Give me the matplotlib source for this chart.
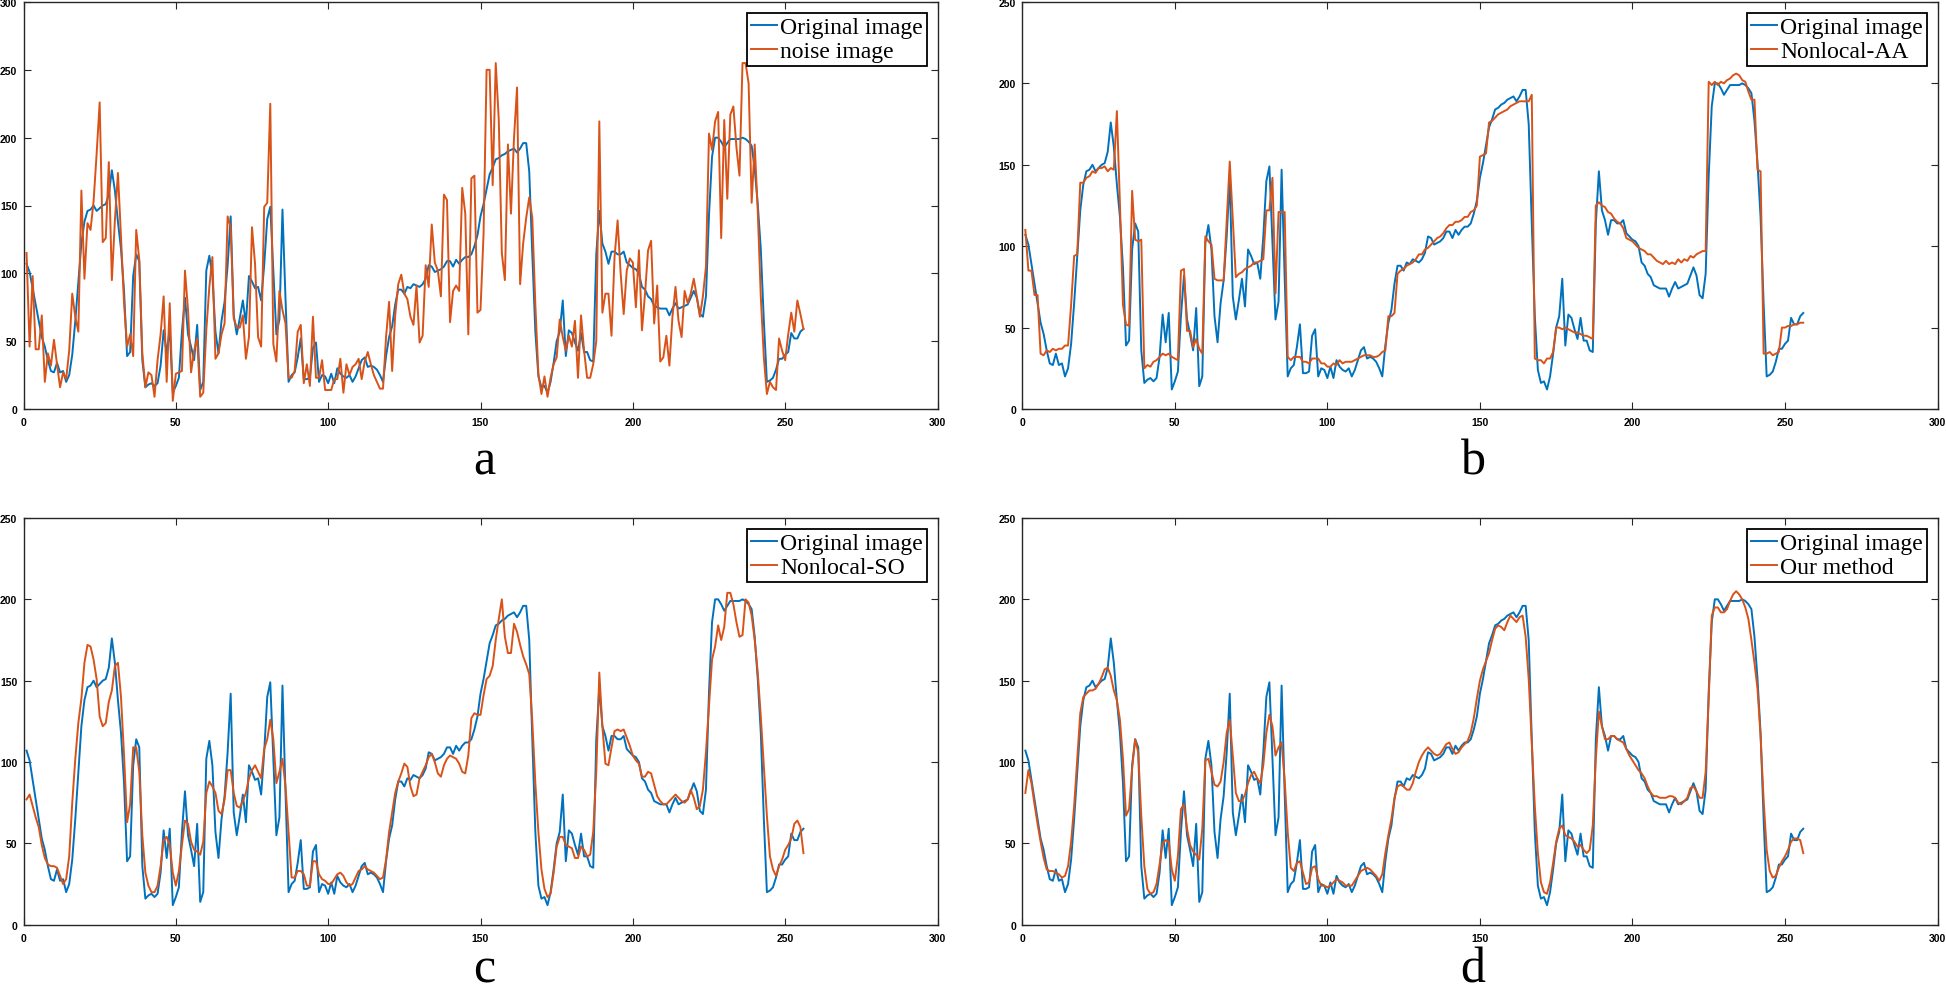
import matplotlib
matplotlib.use('Agg')
import matplotlib.pyplot as plt
import numpy as np

# ---------------- data ----------------
original = [107, 101, 89, 77, 65, 53, 46, 36, 28, 27, 34, 27, 28, 20, 25, 40, 65, 93, 122, 138,
            146, 147, 150, 146, 148, 150, 151, 158, 176, 161, 138, 118, 87, 39, 42, 98, 114, 109, 36, 16,
            18, 19, 17, 19, 32, 58, 41, 59, 12, 17, 23, 57, 82, 55, 46, 36, 62, 14, 20, 102,
            113, 98, 57, 41, 65, 79, 106, 142, 69, 55, 67, 80, 63, 98, 94, 89, 90, 80, 106, 140,
            149, 102, 55, 66, 147, 81, 20, 25, 27, 38, 52, 22, 22, 23, 45, 49, 20, 25, 24, 19,
            26, 19, 30, 26, 24, 23, 25, 20, 24, 30, 36, 38, 31, 32, 31, 29, 25, 20, 39, 53,
            61, 77, 88, 88, 85, 90, 89, 92, 91, 90, 92, 96, 106, 105, 101, 102, 103, 105, 109, 109,
            105, 110, 107, 110, 112, 112, 114, 120, 128, 142, 151, 162, 173, 178, 184, 185, 187, 188, 190, 191,
            192, 189, 192, 196, 196, 175, 114, 57, 24, 16, 17, 12, 20, 34, 50, 57, 80, 39, 58, 56,
            49, 43, 56, 42, 42, 36, 35, 114, 146, 122, 116, 107, 116, 116, 114, 114, 116, 108, 106, 104,
            103, 100, 90, 88, 83, 81, 76, 75, 74, 74, 74, 69, 74, 78, 74, 75, 76, 77, 82, 87,
            82, 70, 68, 83, 143, 186, 200, 200, 197, 193, 196, 199, 199, 199, 199, 200, 199, 197, 194, 177,
            151, 118, 65, 20, 21, 23, 29, 37, 37, 40, 42, 56, 52, 52, 57, 59]

noise_image = [115, 46, 98, 44, 44, 69, 20, 41, 32, 51, 33, 16, 27, 22, 43, 85, 68, 57, 161, 96,
               137, 132, 153, 188, 226, 123, 126, 182, 95, 139, 174, 127, 78, 46, 55, 39, 132, 110, 41, 16,
               27, 25, 9, 36, 55, 83, 20, 78, 6, 26, 27, 28, 102, 73, 27, 43, 52, 9, 12, 58,
               90, 112, 37, 41, 55, 63, 142, 134, 67, 60, 60, 69, 37, 53, 134, 107, 53, 46, 149, 152,
               225, 48, 35, 87, 73, 63, 23, 23, 28, 57, 62, 19, 33, 17, 68, 23, 23, 36, 14, 14,
               14, 22, 22, 37, 12, 33, 25, 31, 33, 37, 22, 35, 42, 33, 25, 20, 15, 15, 53, 79,
               28, 69, 92, 99, 85, 81, 68, 62, 91, 49, 54, 106, 90, 136, 108, 102, 83, 158, 154, 64,
               87, 91, 87, 163, 144, 55, 170, 172, 71, 73, 129, 250, 250, 165, 255, 213, 115, 95, 195, 144,
               200, 237, 92, 122, 141, 156, 141, 77, 26, 11, 24, 9, 23, 33, 38, 66, 53, 43, 54, 46,
               65, 23, 69, 43, 23, 23, 33, 50, 212, 71, 85, 85, 54, 112, 139, 100, 70, 102, 111, 108,
               75, 117, 58, 85, 117, 124, 63, 91, 35, 38, 54, 32, 68, 90, 65, 53, 87, 78, 85, 96,
               83, 68, 83, 105, 203, 191, 212, 219, 126, 213, 155, 217, 223, 193, 172, 255, 255, 240, 152, 195,
               146, 83, 38, 11, 20, 16, 14, 52, 43, 36, 55, 71, 57, 80, 70, 59]

nonlocal_aa = [110, 85, 85, 70, 70, 34, 33, 36, 35, 37, 36, 37, 37, 39, 39, 64, 94, 95, 139, 139,
               142, 143, 146, 145, 148, 148, 149, 146, 148, 147, 183, 126, 64, 52, 51, 134, 104, 103, 104, 25,
               27, 26, 29, 30, 32, 34, 33, 34, 32, 31, 30, 85, 86, 48, 48, 38, 43, 37, 34, 106,
               103, 101, 80, 79, 79, 79, 115, 152, 117, 81, 83, 84, 86, 87, 88, 90, 90, 91, 92, 122,
               122, 142, 71, 121, 121, 121, 32, 30, 32, 32, 32, 29, 29, 28, 31, 31, 31, 28, 28, 26,
               26, 28, 27, 30, 28, 29, 29, 29, 30, 31, 32, 33, 33, 33, 32, 32, 33, 35, 36, 57,
               57, 59, 83, 85, 86, 88, 89, 90, 92, 95, 95, 98, 99, 101, 103, 105, 106, 108, 111, 113,
               113, 115, 115, 116, 118, 118, 121, 122, 125, 155, 156, 157, 176, 177, 179, 181, 182, 183, 184, 186,
               187, 188, 189, 189, 189, 189, 193, 31, 30, 30, 28, 31, 31, 35, 50, 50, 49, 50, 49, 48,
               47, 47, 46, 45, 45, 44, 43, 125, 127, 125, 124, 121, 120, 117, 115, 114, 111, 105, 104, 103,
               101, 99, 98, 97, 95, 95, 93, 91, 90, 89, 91, 89, 90, 89, 92, 90, 92, 91, 94, 93,
               95, 96, 97, 97, 201, 199, 201, 199, 201, 200, 202, 203, 205, 206, 205, 202, 201, 195, 190, 190,
               147, 146, 34, 34, 35, 33, 34, 35, 50, 50, 51, 51, 52, 52, 53, 53]

nonlocal_so = [77, 80, 73, 66, 60, 49, 41, 37, 36, 36, 35, 30, 25, 28, 42, 75, 102, 124, 139, 161,
               172, 171, 163, 151, 128, 122, 124, 137, 144, 159, 161, 140, 104, 63, 74, 109, 109, 94, 55, 32,
               24, 20, 20, 24, 36, 52, 54, 49, 32, 24, 33, 49, 64, 62, 51, 46, 45, 43, 51, 81,
               88, 85, 81, 70, 68, 77, 95, 95, 81, 73, 72, 76, 81, 90, 95, 98, 94, 90, 108, 114,
               126, 114, 87, 94, 102, 85, 57, 29, 29, 33, 33, 31, 24, 24, 39, 39, 31, 28, 27, 25,
               25, 28, 31, 32, 30, 26, 24, 25, 29, 33, 34, 36, 34, 33, 32, 30, 28, 29, 40, 57,
               69, 81, 88, 93, 99, 97, 85, 79, 80, 90, 94, 98, 103, 105, 100, 93, 91, 98, 102, 104,
               103, 102, 99, 94, 93, 104, 127, 130, 129, 129, 141, 151, 153, 159, 175, 188, 200, 177, 167, 167,
               185, 180, 172, 165, 160, 154, 125, 87, 57, 34, 22, 17, 19, 32, 48, 54, 54, 49, 48, 47,
               41, 41, 48, 46, 42, 43, 57, 94, 155, 122, 99, 98, 109, 119, 120, 119, 120, 115, 110, 104,
               101, 99, 91, 91, 94, 93, 86, 79, 76, 74, 74, 76, 78, 80, 78, 76, 75, 77, 83, 78,
               71, 73, 83, 106, 134, 163, 171, 184, 175, 183, 204, 204, 197, 186, 177, 178, 200, 198, 190, 175,
               155, 128, 98, 67, 42, 34, 30, 36, 40, 46, 49, 53, 62, 64, 60, 44]

our_method = [81, 95, 87, 74, 62, 51, 41, 34, 33, 33, 32, 31, 29, 30, 36, 51, 73, 102, 130, 140,
              142, 144, 144, 145, 148, 152, 157, 158, 153, 144, 138, 126, 102, 67, 71, 96, 114, 106, 67, 36,
              22, 19, 20, 25, 37, 50, 52, 51, 34, 27, 42, 71, 74, 59, 49, 45, 43, 40, 59, 101,
              102, 94, 86, 85, 88, 100, 118, 126, 104, 81, 76, 76, 80, 87, 92, 94, 90, 87, 98, 118,
              129, 122, 104, 109, 112, 89, 57, 35, 33, 38, 39, 32, 25, 26, 35, 36, 28, 24, 24, 23,
              24, 26, 28, 27, 26, 24, 24, 24, 27, 30, 33, 34, 35, 34, 32, 30, 27, 31, 44, 55,
              65, 78, 85, 86, 85, 83, 83, 87, 94, 100, 104, 107, 109, 107, 105, 104, 105, 108, 111, 112,
              108, 105, 106, 109, 111, 113, 118, 127, 139, 150, 157, 162, 167, 175, 182, 184, 183, 181, 186, 190,
              188, 186, 189, 190, 177, 151, 112, 73, 44, 26, 20, 19, 26, 38, 51, 59, 61, 55, 54, 53,
              51, 48, 49, 46, 44, 46, 61, 102, 131, 122, 114, 114, 116, 116, 114, 113, 112, 108, 104, 101,
              98, 95, 93, 90, 85, 81, 79, 79, 78, 78, 78, 79, 79, 78, 75, 74, 76, 78, 84, 85,
              82, 78, 78, 94, 139, 190, 195, 195, 192, 192, 194, 199, 203, 205, 203, 200, 195, 188, 175, 161,
              145, 116, 77, 46, 33, 29, 30, 35, 39, 42, 46, 51, 53, 53, 52, 44]

sample_index = np.arange(1, len(original) + 1)
x_ticks = [0, 50, 100, 150, 200, 250, 300]
panel_letters = ['a', 'b', 'c', 'd']
method_names = ['noise image', 'Nonlocal-AA', 'Nonlocal-SO', 'Our method']
method_values = [noise_image, nonlocal_aa, nonlocal_so, our_method]
y_max = [300, 250, 250, 250]

# ---------------- styling / layout ----------------
BLUE = '#0072BD'
ORANGE = '#D95319'
W, H = 1946, 995
plt.rcParams['font.family'] = ['Liberation Sans', 'DejaVu Sans']

fig = plt.figure(figsize=(W / 100, H / 100), dpi=100)
fig.patch.set_facecolor('white')

# pixel boxes (left, top, right, bottom)
boxes = [(23.5, 3, 937.5, 410), (1022.3, 3, 1937.5, 410),
         (23.5, 519, 937.5, 925.7), (1022.3, 519, 1937.5, 925.7)]
letter_pos = [(484, 475), (1473, 475), (484, 983), (1473, 983)]

for k in range(4):
    l, t, r, b = boxes[k]
    ax = fig.add_axes([l / W, 1 - b / H, (r - l) / W, (b - t) / H])
    ax.plot(sample_index, original, color=BLUE, lw=1.4, label='Original image')
    ax.plot(sample_index, method_values[k], color=ORANGE, lw=1.4, label=method_names[k])
    ax.set_xlim(0, 300)
    ax.set_ylim(0, y_max[k])
    ax.set_xticks(x_ticks)
    ax.set_yticks(list(range(0, y_max[k] + 1, 50)))
    ax.tick_params(direction='in', top=True, right=True, length=5, width=0.8,
                   labelsize=7.5, colors='#262626', labelcolor='black')
    ax.tick_params(axis='x', pad=6)
    ax.tick_params(axis='y', pad=4.5)
    for lab in ax.get_xticklabels() + ax.get_yticklabels():
        lab.set_fontweight('bold')
    for sp in ax.spines.values():
        sp.set_linewidth(1.0)
        sp.set_color('#262626')
    aw, ah = r - l, b - t
    leg = ax.legend(loc='upper right', bbox_to_anchor=(1 - 11 / aw, 1 - 11 / ah),
                    borderaxespad=0, prop=dict(family='Liberation Serif', size=17),
                    frameon=True, fancybox=False, edgecolor='black', framealpha=1,
                    handlelength=1.1, handletextpad=0.15, labelspacing=0.1,
                    borderpad=0.15)
    leg.get_frame().set_linewidth(1.3)
    fx, fy = letter_pos[k]
    fig.text(fx / W, 1 - fy / H, panel_letters[k], ha='center', va='baseline',
             family='Liberation Serif', fontsize=36)

fig.savefig('out.png', dpi=100, facecolor='white')
